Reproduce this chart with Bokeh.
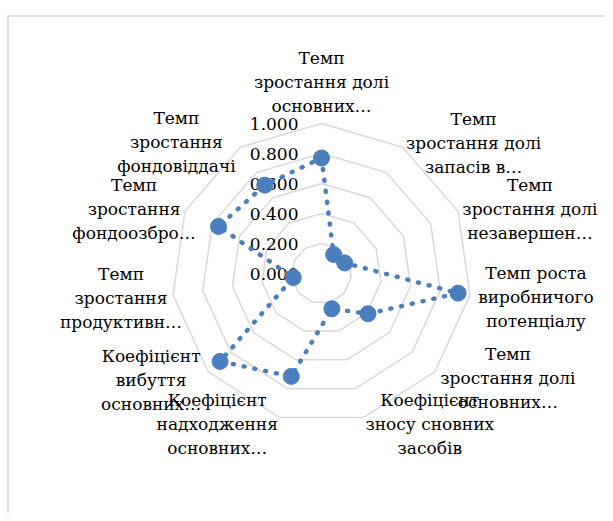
import math
from bokeh.plotting import figure
from bokeh.models import Range1d
from bokeh.core.properties import value
from bokeh.embed import file_html
from bokeh.resources import INLINE

# ---- data ----
categories = [
    "Темп\nзростання долі\nосновних…",
    "Темп\nзростання долі\nзапасів в…",
    "Темп\nзростання долі\nнезавершен…",
    "Темп роста\nвиробничого\nпотенціалу",
    "Темп\nзростання долі\nосновних…",
    "Коефіцієнт\nзносу сновних\nзасобів",
    "Коефіцієнт\nнадходження\nосновних…",
    "Коефіцієнт\nвибуття\nосновних…",
    "Темп\nзростання\nпродуктивн…",
    "Темп\nзростання\nфондоозбро…",
    "Темп\nзростання\nфондовіддачі",
]
values = [0.77, 0.15, 0.17, 0.92, 0.41, 0.245, 0.715, 0.895, 0.19, 0.755, 0.70]
ticks = [0.0, 0.2, 0.4, 0.6, 0.8, 1.0]
tick_labels = ["0.000", "0.200", "0.400", "0.600", "0.800", "1.000"]

# ---- layout (pixels) ----
W, H = 605, 513
S = 150.0            # pixels per unit of value
CX, CY = 321, 273    # radar centre inside the figure (px from left / top)
# label block centre offsets from the outer vertex, in px (dx right, dy down)
label_off = [(0, -42), (71, -4), (72, -2), (66, 2), (73, 6), (66, 7),
             (-62, 7), (-57, 8), (-52, 3), (-51, -2), (-64, -5)]

FONT = "DejaVu Serif"
BLUE = "#4a7ebe"
GRID = "#d9d9d9"

n = len(categories)
ang = [2 * math.pi * i / n for i in range(n)]

p = figure(width=W, height=H,
           x_range=Range1d(-CX / S, (W - CX) / S),
           y_range=Range1d(-(H - CY) / S, CY / S),
           output_backend="svg", toolbar_location=None, min_border=0,
           x_axis_location=None, y_axis_location=None)
p.grid.visible = False
p.outline_line_color = None
p.background_fill_color = "white"

# chart area border (top & left edges visible)
bl = (7.5 - CX) / S
bt = (CY - 15.5) / S
p.line([bl, bl, (W + 5 - CX) / S], [-(H + 5 - CY) / S, bt, bt],
       line_color=GRID, line_width=1.5)

# rings
for r in ticks[1:]:
    xs = [r * math.sin(a) for a in ang] + [0]
    ys = [r * math.cos(a) for a in ang] + [r]
    p.line(xs, ys, line_color=GRID, line_width=1.5)

# tick labels
p.text(x=[-23 / S] * len(ticks), y=ticks, text=tick_labels,
       text_align="right", text_baseline="middle",
       text_font=value(FONT), text_font_size="17px", text_color="black")

# series
sx = [v * math.sin(a) for v, a in zip(values, ang)]
sy = [v * math.cos(a) for v, a in zip(values, ang)]
p.line(sx + [sx[0]], sy + [sy[0]], line_color=BLUE, line_width=4.5,
       line_dash="1 10", line_cap="round")
p.scatter(sx, sy, size=16, fill_color=BLUE, line_color=BLUE)

# category labels
lx = [math.sin(a) + dx / S for a, (dx, dy) in zip(ang, label_off)]
ly = [math.cos(a) - dy / S for a, (dx, dy) in zip(ang, label_off)]
p.text(x=lx, y=ly, text=categories, text_align="center", text_baseline="middle",
       text_font=value(FONT), text_font_size="17px", text_color="black",
       text_line_height=1.2)

open("out.html", "w").write(file_html(p, INLINE))
